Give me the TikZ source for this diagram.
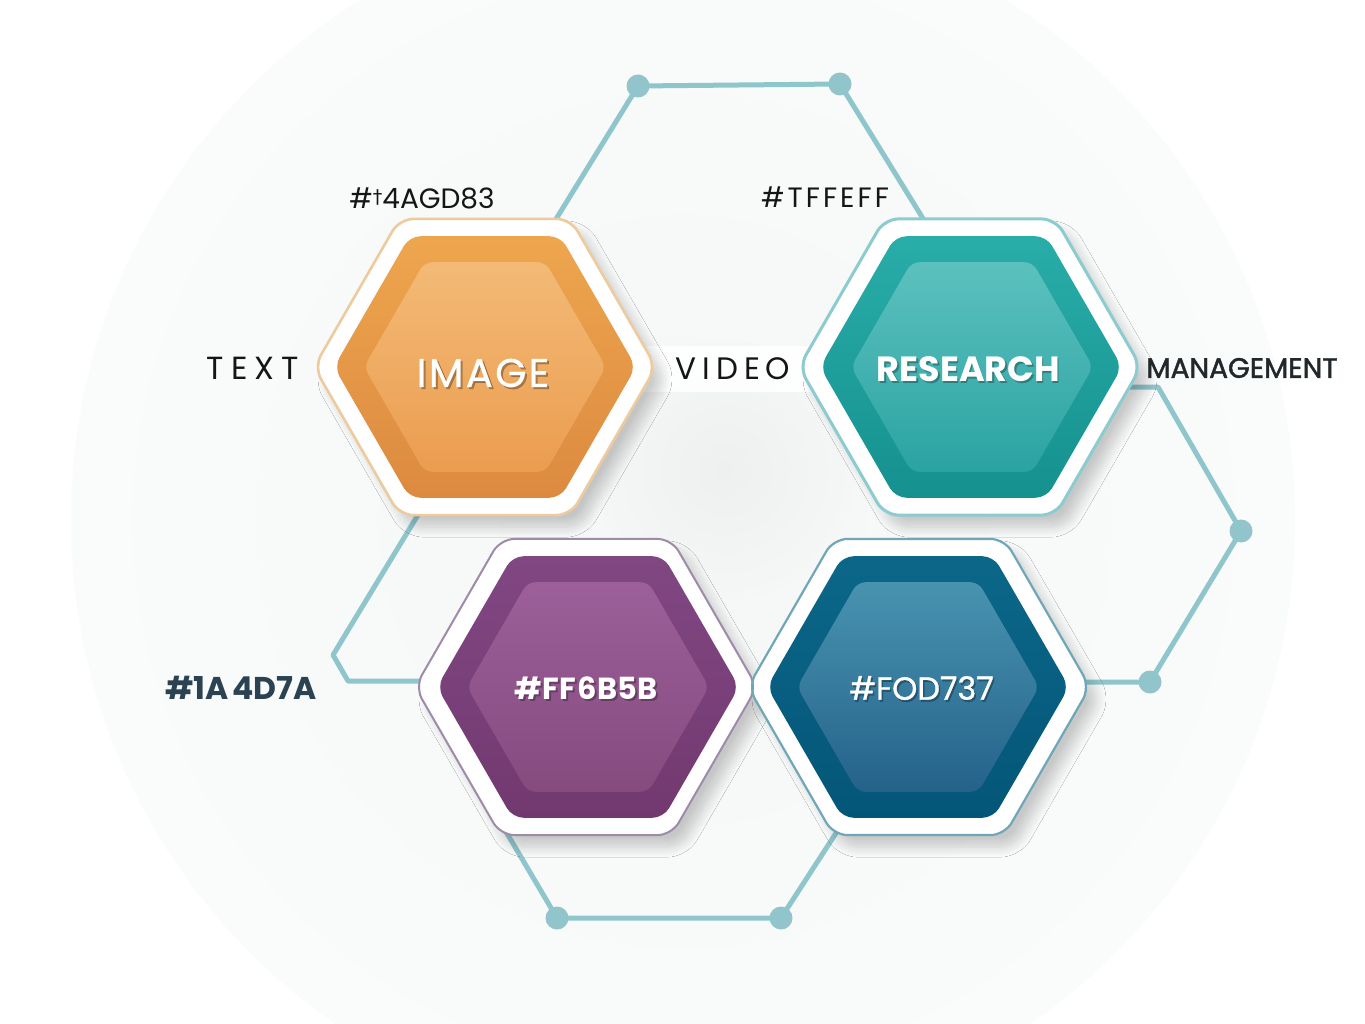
\documentclass[tikz,border=0pt]{standalone}
\usepackage{fontspec}
\setmainfont{Poppins}
\newfontfamily\djv{DejaVu Sans}
\newfontfamily\sptext[LetterSpace=22]{Poppins}
\newfontfamily\spvideo[LetterSpace=19]{Poppins}
\newfontfamily\sptff[LetterSpace=11]{Poppins}
\newfontfamily\spimg[LetterSpace=6,FakeBold=0.8]{Poppins}
\newfontfamily\popmed[FakeBold=1.0]{Poppins}
\newfontfamily\popmedb[FakeBold=1.6]{Poppins}
\usetikzlibrary{shapes.geometric,shadows.blur}

\definecolor{conn}{HTML}{8FC6CC}
\definecolor{dotc}{HTML}{93C4CB}
\definecolor{bgin}{HTML}{F5F6F6}
\definecolor{bgout}{HTML}{FAFBFB}
\definecolor{patchc}{HTML}{EEF0F0}
\definecolor{txtdark}{HTML}{151515}
\definecolor{mgmt}{HTML}{22272A}
\definecolor{slate}{HTML}{2A4252}
% orange
\definecolor{oBord}{HTML}{EDCB9E}
\definecolor{oMidT}{HTML}{EEA64E}
\definecolor{oMidB}{HTML}{DC8A40}
\definecolor{oInT}{HTML}{F3BA76}
\definecolor{oInB}{HTML}{EB9D50}
% teal
\definecolor{tBord}{HTML}{8CCCD0}
\definecolor{tMidT}{HTML}{29ADA9}
\definecolor{tMidB}{HTML}{15918F}
\definecolor{tInT}{HTML}{5CC1BE}
\definecolor{tInB}{HTML}{2AA3A2}
% purple
\definecolor{pBord}{HTML}{9E8AAA}
\definecolor{pMidT}{HTML}{814783}
\definecolor{pMidB}{HTML}{723970}
\definecolor{pInT}{HTML}{9C5F9A}
\definecolor{pInB}{HTML}{854B7E}
% blue
\definecolor{bBord}{HTML}{6FA7B8}
\definecolor{bMidT}{HTML}{0B6789}
\definecolor{bMidB}{HTML}{045678}
\definecolor{bInT}{HTML}{4893B0}
\definecolor{bInB}{HTML}{25628A}

\tikzset{
  hexbase/.style={regular polygon, regular polygon sides=6, inner sep=0pt},
  hexo/.style={hexbase, minimum size=342pt, rounded corners=14pt},
  hexfill/.style={hexo, fill=white,
    blur shadow={shadow xshift=10pt, shadow yshift=-12pt, shadow blur radius=10pt, shadow blur steps=12, shadow opacity=20}},
  hexbord/.style={hexo, draw=#1, line width=2.6pt},
  hexm/.style={hexbase, minimum size=302pt, rounded corners=11pt},
  hexi/.style={hexbase, minimum size=242pt, rounded corners=8pt},
  conline/.style={draw=conn, line width=5pt, line join=round},
  dotnode/.style={circle, fill=dotc, inner sep=0pt, minimum size=23pt},
  lab/.style={inner sep=0pt, anchor=center},
  wlab/.style={lab, text=white},
  slab/.style={lab, text=black, opacity=0.28},
}

\begin{document}
\begin{tikzpicture}[x=1pt,y=-1pt]
\useasboundingbox (0,0) rectangle (1365,1024);
% background
\fill[white] (0,0) rectangle (1365,1024);
\shade[inner color=bgin, outer color=bgout] (683,520) circle (612pt);
\shade[inner color=patchc, outer color=bgin] (725,470) circle (130pt);
\fill[white, opacity=0.9] (630,346) rectangle (818,392);

% connectors (behind the hexagons)
\coordinate (otop) at (545,237);
\coordinate (ttop) at (935,238);
\node[dotnode] (d1) at (638,86) {};
\node[dotnode] (d2) at (840,84) {};
\draw[conline] (otop) -- (d1.center) -- (d2.center) -- (ttop);

\coordinate (tright) at (1110,387);
\coordinate (tr2) at (1158,387);
\node[dotnode] (d3) at (1241,531) {};
\node[dotnode] (d4) at (1150,682) {};
\coordinate (bright) at (1060,682);
\draw[conline] (tright) -- (tr2) -- (d3.center) -- (d4.center) -- (bright);

\coordinate (pbot) at (505,830);
\coordinate (bbot) at (838,830);
\node[dotnode] (d5) at (557,918) {};
\node[dotnode] (d6) at (781,918) {};
\draw[conline] (pbot) -- (d5.center) -- (d6.center) -- (bbot);

\coordinate (obot) at (427,500);
\coordinate (lb1) at (333,655);
\coordinate (lb2) at (348,681);
\coordinate (pleft) at (440,681);
\draw[conline] (obot) -- (lb1) -- (lb2) -- (pleft);

% hexagon rings
\node[hexfill] (orangeo) at (485,367) {};
\node[hexfill] (tealo) at (970,367) {};
\node[hexfill] (purpleo) at (586,687) {};
\node[hexfill] (blueo) at (919,687) {};
\node[hexbord=oBord] (orangeb) at (485,367) {};
\node[hexbord=tBord, line width=3pt] (tealb) at (970,367) {};
\node[hexbord=pBord, line width=2pt] (purpleb) at (586,687) {};
\node[hexbord=bBord, line width=2.2pt] (blueb) at (919,687) {};

% coloured bodies
\node[hexm, top color=oMidT, bottom color=oMidB] (orangem) at (485,367) {};
\node[hexi, top color=oInT, bottom color=oInB] (orangei) at (485,367) {};
\node[hexm, top color=tMidT, bottom color=tMidB] (tealm) at (971,367) {};
\node[hexi, top color=tInT, bottom color=tInB] (teali) at (972,367) {};
\node[hexm, top color=pMidT, bottom color=pMidB] (purplem) at (588,687) {};
\node[hexi, top color=pInT, bottom color=pInB] (purplei) at (588,687) {};
\node[hexm, top color=bMidT, bottom color=bMidB] (bluem) at (918,687) {};
\node[hexi, top color=bInT, bottom color=bInB] (bluei) at (918,687) {};

% labels inside
\node[slab, font=\spimg\fontsize{40}{40}\selectfont] (imgs) at (485,375) {IMAGE};
\node[wlab, font=\spimg\fontsize{40}{40}\selectfont] (img) at (483,373) {IMAGE};
\node[slab, font=\bfseries\fontsize{35}{35}\selectfont] (ress) at (970,371) {RESEARCH};
\node[wlab, font=\bfseries\fontsize{35}{35}\selectfont] (res) at (968.5,369) {RESEARCH};
\node[slab, font=\bfseries\fontsize{30.5}{30.5}\selectfont] (ffs) at (588,690) {\#FF\hspace{2pt}6B5B};
\node[wlab, font=\bfseries\fontsize{30.5}{30.5}\selectfont] (ff) at (586,688) {\#FF\hspace{2pt}6B5B};
\node[slab, font=\popmed\fontsize{32}{32}\selectfont] (fos) at (923,690) {\#FOD737};
\node[wlab, font=\popmed\fontsize{32}{32}\selectfont] (fo) at (921.5,688) {\#FOD737};

% labels outside
\node[lab, text=txtdark, font=\fontsize{28}{28}\selectfont] (l4a) at (422,198)
  {\#{\djv\fontsize{19}{19}\selectfont\raisebox{4.5pt}{†}}4AGD83};
\node[lab, text=txtdark, font=\sptff\fontsize{28}{28}\selectfont] (ltf) at (825,197) {\#TFFEFF};
\node[lab, text=txtdark, font=\sptext\fontsize{32}{32}\selectfont] (ltext) at (253,368) {TEXT};
\node[lab, text=txtdark, font=\spvideo\fontsize{31}{31}\selectfont] (lvid) at (733,369) {VIDEO};
\node[lab, text=mgmt, font=\popmedb\fontsize{28}{28}\selectfont] (lman) at (1242,368) {MANAGEMENT};
\node[lab, text=slate, font=\bfseries\fontsize{31.5}{31.5}\selectfont] (l1a) at (241,688) {\#1A\hspace{4pt}4D7A};
\end{tikzpicture}
\end{document}
